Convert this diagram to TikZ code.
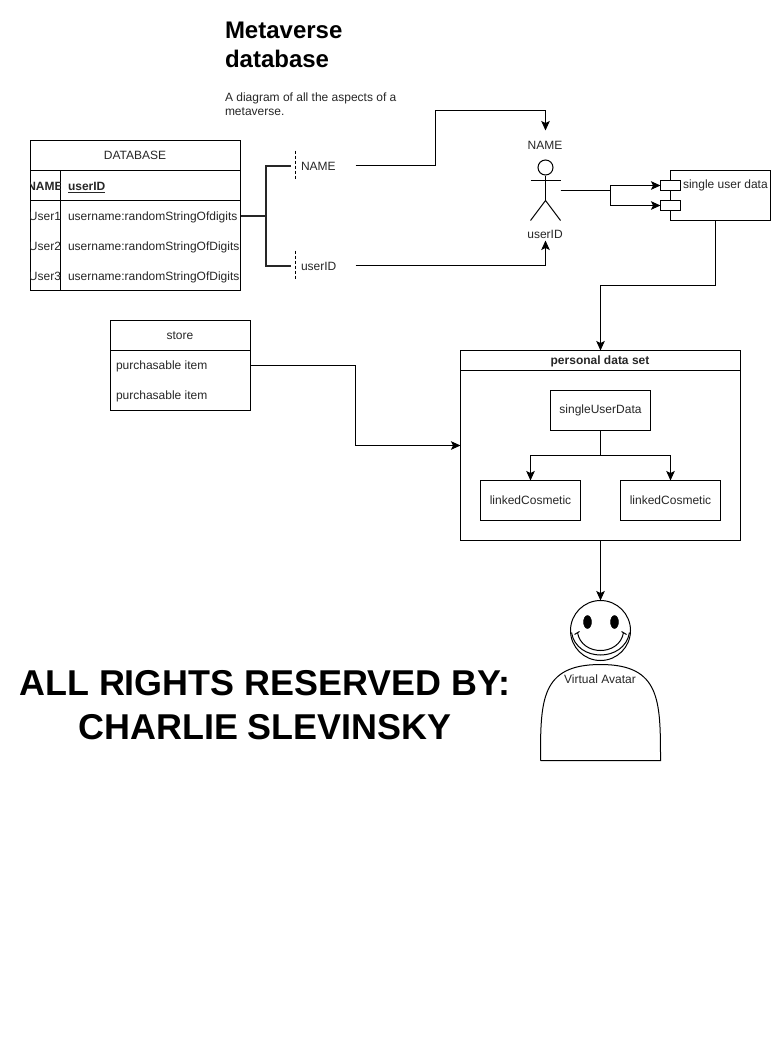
\documentclass[tikz,border=0pt]{standalone}
\usepackage{fontspec}
\setmainfont{Liberation Sans}
\usetikzlibrary{arrows.meta}
\newcommand{\fs}[1]{\fontsize{#1}{#1}\selectfont}
\tikzset{
  x=1pt,y=-1pt,
  every node/.style={font=\fs{12},text=black!85,inner sep=0pt,outer sep=0pt},
  lbl/.style={anchor=base west,xshift=-0.5pt},
  clbl/.style={anchor=base,xshift=-0.5pt},
  conn/.style={draw,line width=1pt,-{Stealth[length=9.5pt,width=8.5pt,inset=2pt]}},
  plainl/.style={draw,line width=1pt},
  bracket/.style={draw=black!85,line width=2pt},
  outl/.style={draw,line width=1pt},
  boxn/.style={draw,line width=1pt,minimum width=100,minimum height=40},
  portn/.style={draw,line width=1pt,fill=white,minimum width=20,minimum height=10},
}
\begin{document}
\begin{tikzpicture}
\useasboundingbox (-0.5,-0.5) rectangle (770.5,1040.5);
% title
\node[lbl,font=\bfseries\fs{24},text=black] (t1) at (225,38) {Metaverse};
\node[lbl,font=\bfseries\fs{24},text=black] (t2) at (225,67) {database};
\node[lbl] (s1) at (225,101) {A diagram of all the aspects of a};
\node[lbl] (s2) at (225,115) {metaverse.};
% database table
\draw[outl] (30,140) rectangle (240,290);
\draw[outl] (30,170) -- (240,170);
\draw[outl] (30,200) -- (240,200);
\draw[outl] (60,170) -- (60,290);
\coordinate (dbr) at (240,215);
\node[clbl] (dbt) at (135,159) {DATABASE};
\begin{scope}
\clip (30,170) rectangle (60,290);
\node[clbl,font=\bfseries\fs{12}] (c0) at (45,190) {NAME};
\node[clbl] (c1) at (45,220) {User1};
\node[clbl] (c2) at (45,250) {User2};
\node[clbl] (c3) at (45,280) {User3};
\end{scope}
\node[lbl,font=\bfseries\fs{12}] (u0) at (68,190) {\underline{userID}};
\node[lbl] (u1) at (68,220) {username:randomStringOfdigits};
\node[lbl] (u2) at (68,250) {username:randomStringOfDigits};
\node[lbl] (u3) at (68,280) {username:randomStringOfDigits};
% bracket
\coordinate (bj) at (265,215);
\coordinate (bt) at (290,165);
\coordinate (bb) at (290,265);
\draw[bracket] (dbr) -- (bj);
\draw[bracket] (bt) -- (265,165) -- (265,265) -- (bb);
\draw[plainl,dash pattern=on 3pt off 2pt] (295,150) -- (295,178);
\draw[plainl,dash pattern=on 3pt off 2pt] (295,250) -- (295,278);
\node[lbl] (fn) at (301,169.5) {NAME};
\node[lbl] (fu) at (301,269.5) {userID};
\coordinate (fnr) at (355,165);
\coordinate (fur) at (355,265);
% actor
\node[clbl] (an) at (545,149) {NAME};
\node[clbl] (au) at (545,238) {userID};
\coordinate (at) at (545,130);
\coordinate (ab) at (545,240);
\draw[outl] (545,167) circle (7.5);
\draw[outl] (545,175) -- (545,200);
\draw[outl] (530,180) -- (560,180);
\draw[outl] (530,220) -- (545,200) -- (560,220);
\coordinate (ar) at (560,190);
\draw[conn] (fnr) -- (435,165) -- (435,110) -- (545,110) -- (at);
\draw[conn] (fur) -- (545,265) -- (ab);
% component
\draw[outl] (670,170) rectangle (770,220);
\node[portn] (p1) at (670,185) {};
\node[portn] (p2) at (670,205) {};
\node[lbl] (ct) at (683,188) {single user data};
\coordinate (cb) at (715,220);
\draw[conn] (ar) -- (610,190) -- (610,185) -- (p1.west);
\draw[conn] (ar) -- (610,190) -- (610,205) -- (p2.west);
% personal data set
\draw[outl] (460,350) rectangle (740,540);
\draw[outl] (460,370) -- (740,370);
\node[clbl,font=\bfseries\fs{12}] (pt) at (600,364) {personal data set};
\coordinate (pdt) at (600,350);
\coordinate (pdl) at (460,445);
\coordinate (pdb) at (600,540);
\draw[conn] (cb) -- (715,285) -- (600,285) -- (pdt);
\node[boxn] (sud) at (600,410) {singleUserData};
\node[boxn] (lc1) at (530,500) {linkedCosmetic};
\node[boxn] (lc2) at (670,500) {linkedCosmetic};
\draw[conn] (sud.south) -- (600,455) -- (530,455) -- (lc1.north);
\draw[conn] (sud.south) -- (600,455) -- (670,455) -- (lc2.north);
% store
\draw[outl] (110,320) rectangle (250,410);
\draw[outl] (110,350) -- (250,350);
\node[clbl] (st) at (180,339) {store};
\node[lbl] (i1) at (116,369) {purchasable item};
\node[lbl] (i2) at (116,399) {purchasable item};
\coordinate (sr) at (250,365);
\draw[conn] (sr) -- (355,365) -- (355,445) -- (pdl);
% avatar
\draw[outl] (540,760) -- (660,760) .. controls (660,700) and (660,664) .. (600,664) .. controls (540,664) and (540,700) .. (540,760);
\node[circle,draw,line width=1pt,fill=white,minimum size=60] (head) at (600,630) {};
\draw[outl] (571,632) .. controls (576,662) and (624,662) .. (629,632);
\draw[fill=black] (587,621.5) ellipse (4 and 6.5);
\draw[fill=black] (614,621.5) ellipse (4 and 6.5);
\draw[outl] (577,632) .. controls (581,656) and (619,656) .. (623,632);
\draw[outl] (574,634) -- (579,631);
\draw[outl] (621,631) -- (626,634);
\draw[conn] (pdb) -- (head.north);
\node[clbl] (va) at (600,683) {Virtual Avatar};
% notice
\node[clbl,font=\bfseries\fs{35.9},text=black] (r1) at (265,695) {ALL RIGHTS RESERVED BY:};
\node[clbl,font=\bfseries\fs{35.9},text=black] (r2) at (265,739) {CHARLIE SLEVINSKY};
\end{tikzpicture}
\end{document}
